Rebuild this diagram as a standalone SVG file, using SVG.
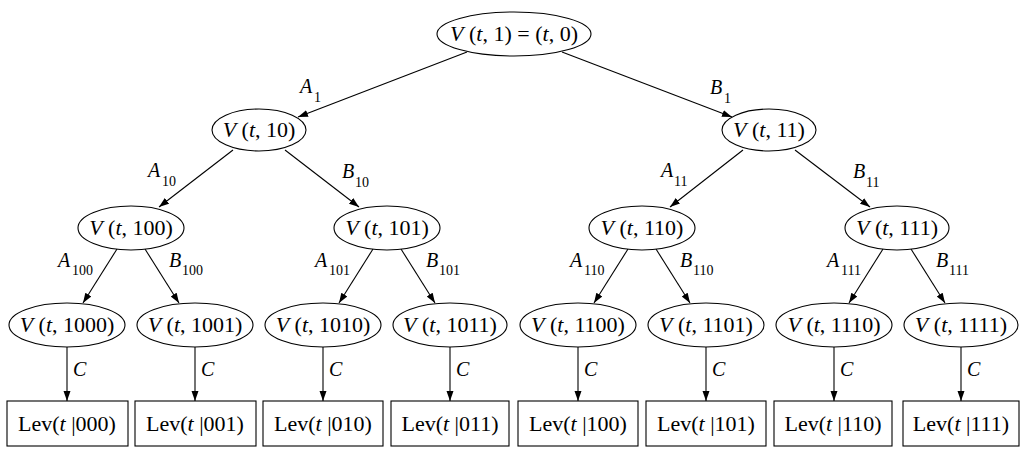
<svg xmlns="http://www.w3.org/2000/svg" width="1024" height="451" viewBox="0 0 1024 451">
<style>
.n{fill:#fff;stroke:#000;stroke-width:1.1}
.t{font-family:"Liberation Serif","Times New Roman",serif;font-size:22px;fill:#000;text-anchor:middle}
.l{font-family:"Liberation Serif","Times New Roman",serif;font-size:20px;fill:#000;font-style:italic}
.s{font-size:14px;font-style:normal}
.i{font-style:italic}
.e{stroke:#000;stroke-width:1.1;fill:none;marker-end:url(#ah)}
</style>
<defs>
<marker id="ah" markerWidth="11" markerHeight="8" refX="10" refY="3.5" orient="auto" markerUnits="userSpaceOnUse">
<path d="M0,0 L10,3.5 L0,7 z" fill="#000"/>
</marker>
</defs>
<rect width="1024" height="451" fill="#fff"/>
<g id="connectors">
<line class="e" x1="467" y1="52" x2="298" y2="117"/>
<line class="e" x1="562" y1="52" x2="732" y2="117"/>
<line class="e" x1="233" y1="150" x2="159" y2="207"/>
<line class="e" x1="285" y1="150" x2="359" y2="207"/>
<line class="e" x1="743" y1="150" x2="670" y2="207"/>
<line class="e" x1="795" y1="150" x2="870" y2="207"/>
<line class="e" x1="117" y1="249" x2="83" y2="303"/>
<line class="e" x1="145" y1="249" x2="179" y2="303"/>
<line class="e" x1="373" y1="249" x2="339" y2="303"/>
<line class="e" x1="401" y1="249" x2="435" y2="303"/>
<line class="e" x1="628" y1="249" x2="594" y2="303"/>
<line class="e" x1="656" y1="249" x2="690" y2="303"/>
<line class="e" x1="883" y1="249" x2="849" y2="303"/>
<line class="e" x1="911" y1="249" x2="945" y2="303"/>
<line class="e" x1="67" y1="347" x2="67" y2="401"/>
<line class="e" x1="195" y1="347" x2="195" y2="401"/>
<line class="e" x1="323" y1="347" x2="323" y2="401"/>
<line class="e" x1="450" y1="347" x2="450" y2="401"/>
<line class="e" x1="578" y1="347" x2="578" y2="401"/>
<line class="e" x1="706" y1="347" x2="706" y2="401"/>
<line class="e" x1="834" y1="347" x2="834" y2="401"/>
<line class="e" x1="961" y1="347" x2="961" y2="401"/>
<text class="l" x="300" y="93">A<tspan class="s" x="314" y="102">1</tspan></text>
<text class="l" x="710" y="94">B<tspan class="s" x="724" y="103">1</tspan></text>
<text class="l" x="148" y="177">A<tspan class="s" x="162" y="186">10</tspan></text>
<text class="l" x="342" y="178">B<tspan class="s" x="355" y="187">10</tspan></text>
<text class="l" x="661" y="177">A<tspan class="s" x="674" y="186">11</tspan></text>
<text class="l" x="853" y="178">B<tspan class="s" x="866" y="187">11</tspan></text>
<text class="l" x="58" y="267">A<tspan class="s" x="72" y="275">100</tspan></text>
<text class="l" x="169" y="267">B<tspan class="s" x="182" y="275">100</tspan></text>
<text class="l" x="315" y="267">A<tspan class="s" x="329" y="275">101</tspan></text>
<text class="l" x="426" y="267">B<tspan class="s" x="439" y="275">101</tspan></text>
<text class="l" x="570" y="267">A<tspan class="s" x="584" y="275">110</tspan></text>
<text class="l" x="680" y="267">B<tspan class="s" x="693" y="275">110</tspan></text>
<text class="l" x="827" y="267">A<tspan class="s" x="841" y="275">111</tspan></text>
<text class="l" x="936" y="267">B<tspan class="s" x="949" y="275">111</tspan></text>
<text class="l" x="73" y="376">C</text>
<text class="l" x="201" y="376">C</text>
<text class="l" x="329" y="376">C</text>
<text class="l" x="456" y="376">C</text>
<text class="l" x="584" y="376">C</text>
<text class="l" x="712" y="376">C</text>
<text class="l" x="840" y="376">C</text>
<text class="l" x="967" y="376">C</text>
</g>
<g id="n1"><ellipse class="n" cx="514" cy="34" rx="77" ry="22"/><text class="t" x="514" y="41"><tspan class="i">V</tspan> (<tspan class="i">t</tspan>, 1) = (<tspan class="i">t</tspan>, 0)</text></g>
<g id="n10"><ellipse class="n" cx="259" cy="130" rx="47" ry="21"/><text class="t" x="259" y="137"><tspan class="i">V</tspan> (<tspan class="i">t</tspan>, 10)</text></g>
<g id="n11"><ellipse class="n" cx="769" cy="130" rx="47" ry="21"/><text class="t" x="769" y="137"><tspan class="i">V</tspan> (<tspan class="i">t</tspan>, 11)</text></g>
<g id="n100"><ellipse class="n" cx="131" cy="228" rx="53" ry="22"/><text class="t" x="131" y="235"><tspan class="i">V</tspan> (<tspan class="i">t</tspan>, 100)</text></g>
<g id="n101"><ellipse class="n" cx="387" cy="228" rx="53" ry="22"/><text class="t" x="387" y="235"><tspan class="i">V</tspan> (<tspan class="i">t</tspan>, 101)</text></g>
<g id="n110"><ellipse class="n" cx="642" cy="228" rx="53" ry="22"/><text class="t" x="642" y="235"><tspan class="i">V</tspan> (<tspan class="i">t</tspan>, 110)</text></g>
<g id="n111"><ellipse class="n" cx="897" cy="228" rx="52" ry="22"/><text class="t" x="897" y="235"><tspan class="i">V</tspan> (<tspan class="i">t</tspan>, 111)</text></g>
<g id="n1000"><ellipse class="n" cx="67" cy="325" rx="58" ry="22"/><text class="t" x="67" y="332"><tspan class="i">V</tspan> (<tspan class="i">t</tspan>, 1000)</text></g>
<g id="n1001"><ellipse class="n" cx="195" cy="325" rx="58" ry="22"/><text class="t" x="195" y="332"><tspan class="i">V</tspan> (<tspan class="i">t</tspan>, 1001)</text></g>
<g id="n1010"><ellipse class="n" cx="323" cy="325" rx="58" ry="22"/><text class="t" x="323" y="332"><tspan class="i">V</tspan> (<tspan class="i">t</tspan>, 1010)</text></g>
<g id="n1011"><ellipse class="n" cx="450" cy="325" rx="57" ry="22"/><text class="t" x="450" y="332"><tspan class="i">V</tspan> (<tspan class="i">t</tspan>, 1011)</text></g>
<g id="n1100"><ellipse class="n" cx="578" cy="325" rx="58" ry="22"/><text class="t" x="578" y="332"><tspan class="i">V</tspan> (<tspan class="i">t</tspan>, 1100)</text></g>
<g id="n1101"><ellipse class="n" cx="706" cy="325" rx="58" ry="22"/><text class="t" x="706" y="332"><tspan class="i">V</tspan> (<tspan class="i">t</tspan>, 1101)</text></g>
<g id="n1110"><ellipse class="n" cx="834" cy="325" rx="58" ry="22"/><text class="t" x="834" y="332"><tspan class="i">V</tspan> (<tspan class="i">t</tspan>, 1110)</text></g>
<g id="n1111"><ellipse class="n" cx="961" cy="325" rx="57" ry="22"/><text class="t" x="961" y="332"><tspan class="i">V</tspan> (<tspan class="i">t</tspan>, 1111)</text></g>
<g id="lev000"><rect class="n" x="7" y="401" width="121" height="45"/><text class="t" x="67" y="431">Lev(<tspan class="i">t</tspan> |000)</text></g>
<g id="lev001"><rect class="n" x="135" y="401" width="121" height="45"/><text class="t" x="195" y="431">Lev(<tspan class="i">t</tspan> |001)</text></g>
<g id="lev010"><rect class="n" x="263" y="401" width="120" height="45"/><text class="t" x="323" y="431">Lev(<tspan class="i">t</tspan> |010)</text></g>
<g id="lev011"><rect class="n" x="391" y="401" width="118" height="45"/><text class="t" x="450" y="431">Lev(<tspan class="i">t</tspan> |011)</text></g>
<g id="lev100"><rect class="n" x="518" y="401" width="120" height="45"/><text class="t" x="578" y="431">Lev(<tspan class="i">t</tspan> |100)</text></g>
<g id="lev101"><rect class="n" x="646" y="401" width="120" height="45"/><text class="t" x="706" y="431">Lev(<tspan class="i">t</tspan> |101)</text></g>
<g id="lev110"><rect class="n" x="774" y="401" width="118" height="45"/><text class="t" x="833" y="431">Lev(<tspan class="i">t</tspan> |110)</text></g>
<g id="lev111"><rect class="n" x="903" y="401" width="116" height="45"/><text class="t" x="961" y="431">Lev(<tspan class="i">t</tspan> |111)</text></g>
</svg>
